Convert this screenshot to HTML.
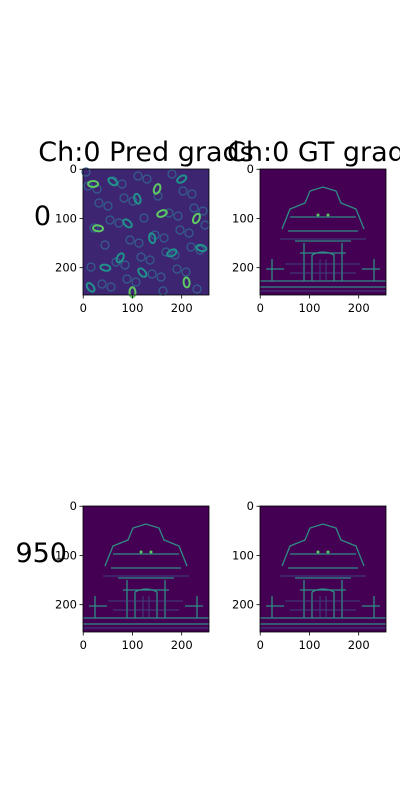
<!DOCTYPE html>
<html><head><meta charset="utf-8">
<style>
body{margin:0;background:#fff;width:400px;height:800px;overflow:hidden;font-family:"DejaVu Sans",sans-serif;}
svg text{font-family:"DejaVu Sans","Liberation Sans",sans-serif;}
</style></head>
<body>
<svg id="fig" width="400" height="800" viewBox="0 0 400 800" xmlns="http://www.w3.org/2000/svg">
<defs>
<g id="gate">
  <rect x="0" y="0" width="126" height="126" fill="#440154"/>
  <g stroke="#2c9d8a" stroke-width="1.3" fill="none" opacity="0.9">
    <path d="M22 60 L30 40 L45 34 L50 22 L63 18 L76 22 L81 34 L96 40 L104 60"/>
    <path d="M30 48 L96 48 M28 62 L98 62 M35 72 L91 72 M40 84 L86 84"/>
    <path d="M44 74 L44 112 M82 74 L82 112 M52 86 Q63 80 74 86 L74 112 M52 86 L52 112"/>
    <path d="M12 90 L12 112 M114 90 L114 112 M6 100 L24 100 M102 100 L120 100"/>
    <path d="M0 112 L126 112 M0 118 L126 118"/>
  </g>
  <g stroke="#3b528b" stroke-width="1" fill="none" opacity="0.8">
    <path d="M20 70 L106 70 M25 95 L100 95 M30 104 L96 104 M60 90 L60 112 M66 90 L66 112"/>
    <path d="M0 122 L126 122"/>
  </g>
  <circle cx="58" cy="46" r="1.5" fill="#5ec962"/><circle cx="68" cy="46" r="1.5" fill="#5ec962"/>
</g>
</defs>
<g id="axes"></g>
</svg>
<script>
const titles = ["Ch:0 Pred grads", "Ch:0 GT grads"];
const rowLabels = ["0", "950"];
const xTicks = [0, 100, 200];
const yTicks = [0, 100, 200];
const blobX = [20,60,110,150,200,30,90,140,230,180,45,120,210,75,160,240,15,100];
const blobY = [30,25,60,40,20,120,110,140,100,170,200,210,230,180,90,160,240,250];
const blobV = [0.8,0.5,0.6,0.9,0.4,0.7,0.5,0.6,0.8,0.5,0.6,0.4,0.7,0.5,0.9,0.6,0.5,0.7];

const NS="http://www.w3.org/2000/svg";
const root=document.getElementById('axes');
const axW=126, imgN=256;
const cols=[83,260], rows=[169,506];
function sx(v,x0){return x0+(v+0.5)*axW/imgN;}
function sy(v,y0){return y0+(v+0.5)*axW/imgN;}
function mk(tag,attrs,parent){const e=document.createElementNS(NS,tag);for(const k in attrs)e.setAttribute(k,attrs[k]);(parent||root).appendChild(e);return e;}
const viridis=["#3b528b","#21918c","#5ec962","#fde725"];
rows.forEach((y0,ri)=>{
  cols.forEach((x0,ci)=>{
    const g=mk('g',{});
    
    
    if(ri===0&&ci===0){
      mk('rect',{x:x0,y:y0,width:axW,height:axW,fill:'#3d2572'},g);
      for(let i=0;i<50;i++){mk('circle',{cx:x0+((i*53)%120)+3,cy:y0+((i*71)%120)+3,r:4,fill:'none',stroke:'#34608d','stroke-width':1.2},g);}
      for(let i=0;i<blobX.length;i++){
        const c=viridis[Math.min(3,Math.floor(blobV[i]*3))];
        const b=mk('ellipse',{cx:sx(blobX[i],x0),cy:sy(blobY[i],y0),rx:5,ry:3,fill:'none',stroke:c,'stroke-width':2,transform:`rotate(${i*37} ${sx(blobX[i],x0)} ${sy(blobY[i],y0)})`},g);
        
        
      }
    } else {
      mk('use',{href:'#gate',x:x0,y:y0},g);
    }
    mk('rect',{x:x0,y:y0,width:axW,height:axW,fill:'none',stroke:'#000','stroke-width':0.8},g);
    xTicks.forEach(t=>{
      const x=sx(t,x0);
      mk('line',{x1:x,x2:x,y1:y0+axW,y2:y0+axW+3.5,stroke:'#000','stroke-width':0.8},g);
      const tx=mk('text',{x:x,y:y0+axW+17,'font-size':11.5,'text-anchor':'middle'},g);tx.textContent=t;
      
      
    });
    yTicks.forEach(t=>{
      const y=sy(t,y0);
      mk('line',{x1:x0-3.5,x2:x0,y1:y,y2:y,stroke:'#000','stroke-width':0.8},g);
      const tx=mk('text',{x:x0-6,y:y+4,'font-size':11.5,'text-anchor':'end'},g);tx.textContent=t;
      
      
    });
    if(ri===0){
      const tt=mk('text',{x:x0+axW/2,y:y0-8,'font-size':27,'text-anchor':'middle'},g);tt.textContent=titles[ci];
      
      
    }
  });
  const rl=mk('text',{x:ri===0?51:67,y:y0+56,'font-size':27,'text-anchor':'end'});
  rl.textContent=rowLabels[ri];
  
  
});
</script>
</body></html>
